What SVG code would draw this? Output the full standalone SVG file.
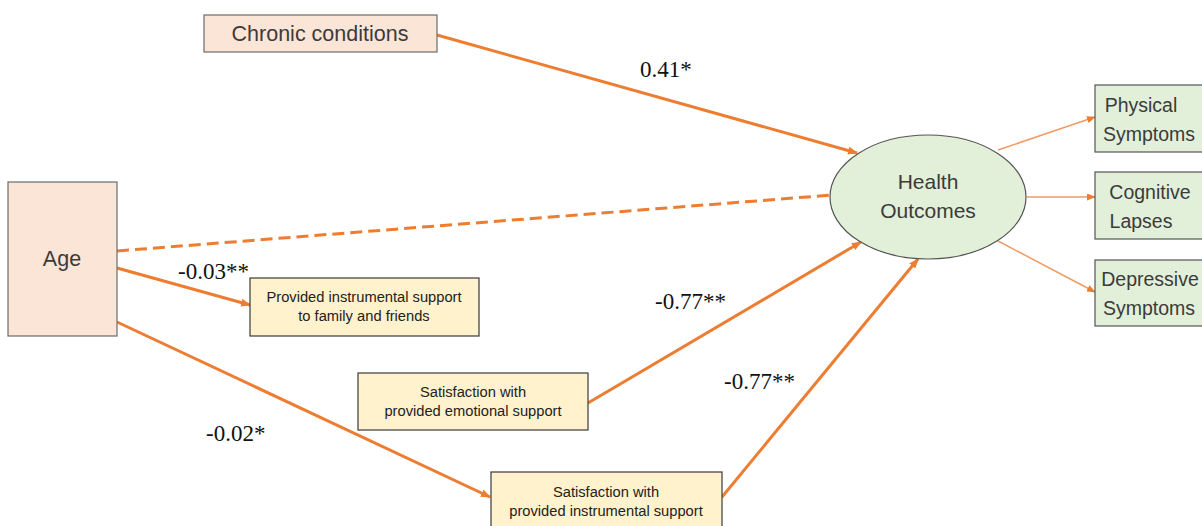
<svg xmlns="http://www.w3.org/2000/svg" width="1202" height="526" viewBox="0 0 1202 526">
  <style>
    .peach { fill: #fbe5d6; stroke: #6b6b6b; stroke-width: 1.2; }
    .cream { fill: #fff2cc; stroke: #3a3a3a; stroke-width: 1.2; }
    .green { fill: #e2efd9; stroke: #555; stroke-width: 1.2; }
    .lbl { font-family: "Liberation Sans", Arial, sans-serif; fill: #3b3b3b; text-anchor: middle; }
    .big { font-size: 21.5px; }
    .out { font-size: 21px; }
    .side { font-size: 19.5px; }
    .small { font-size: 14.7px; fill: #222; }
    .coef { font-family: "Liberation Serif", "Times New Roman", serif; font-size: 23px; fill: #111; }
    .main { stroke: #ed7d31; stroke-width: 3; fill: none; marker-end: url(#ah); }
    .thin { stroke: #f09a66; stroke-width: 1.5; fill: none; marker-end: url(#ahs); }
  </style>
  <defs>
    <marker id="ah" markerWidth="10" markerHeight="8" refX="9" refY="4" orient="auto" markerUnits="userSpaceOnUse">
      <path d="M0,0 L10,4 L0,8 Z" fill="#ed7d31"/>
    </marker>
    <marker id="ahs" markerWidth="9" markerHeight="7" refX="8" refY="3.5" orient="auto" markerUnits="userSpaceOnUse">
      <path d="M0,0 L9,3.5 L0,7 Z" fill="#ed7d31"/>
    </marker>
  </defs>
  <rect width="1202" height="526" fill="#ffffff"/>

  <g id="connectors">
    <line class="main" x1="437" y1="35" x2="857" y2="153"/>
    <line class="main" x1="117" y1="251" x2="845" y2="194" stroke-dasharray="12,6"/>
    <line class="main" x1="117" y1="268" x2="250" y2="305"/>
    <line class="main" x1="117" y1="322" x2="490" y2="497"/>
    <line class="main" x1="588" y1="403" x2="861" y2="242"/>
    <line class="main" x1="722" y1="497" x2="918" y2="259"/>
    <line class="thin" x1="998" y1="150" x2="1095" y2="117"/>
    <line class="thin" x1="1027" y1="197" x2="1095" y2="197"/>
    <line class="thin" x1="998" y1="241" x2="1095" y2="292"/>
  </g>

  <g id="chronic">
    <rect class="peach" x="204" y="15" width="233" height="37"/>
    <text class="lbl big" x="320" y="41">Chronic conditions</text>
  </g>
  <g id="age">
    <rect class="peach" x="8" y="182" width="109" height="154"/>
    <text class="lbl big" x="62" y="266">Age</text>
  </g>
  <g id="provided-instrumental">
    <rect class="cream" x="250" y="278" width="229" height="58"/>
    <text class="lbl small" x="364" y="302">Provided instrumental support</text>
    <text class="lbl small" x="364" y="321">to family and friends</text>
  </g>
  <g id="satisfaction-emotional">
    <rect class="cream" x="358" y="373" width="230" height="57"/>
    <text class="lbl small" x="473" y="397">Satisfaction with</text>
    <text class="lbl small" x="473" y="416">provided emotional support</text>
  </g>
  <g id="satisfaction-instrumental">
    <rect class="cream" x="491" y="472" width="231" height="60"/>
    <text class="lbl small" x="606" y="497">Satisfaction with</text>
    <text class="lbl small" x="606" y="516">provided instrumental support</text>
  </g>
  <g id="health-outcomes">
    <ellipse class="green" cx="928" cy="197" rx="98" ry="62"/>
    <text class="lbl out" x="928" y="189" fill="#222">Health</text>
    <text class="lbl out" x="928" y="218" fill="#222">Outcomes</text>
  </g>
  <g id="physical">
    <rect class="green" x="1095" y="85" width="115" height="67"/>
    <text class="lbl side" x="1141" y="112">Physical</text>
    <text class="lbl side" x="1149" y="141">Symptoms</text>
  </g>
  <g id="cognitive">
    <rect class="green" x="1095" y="172" width="115" height="67"/>
    <text class="lbl side" x="1150" y="199">Cognitive</text>
    <text class="lbl side" x="1141" y="228">Lapses</text>
  </g>
  <g id="depressive">
    <rect class="green" x="1095" y="260" width="115" height="66"/>
    <text class="lbl side" x="1150" y="286">Depressive</text>
    <text class="lbl side" x="1149" y="315">Symptoms</text>
  </g>

  <g id="coefficients">
    <text class="coef" x="640" y="77">0.41*</text>
    <text class="coef" x="178" y="279">-0.03**</text>
    <text class="coef" x="655" y="309">-0.77**</text>
    <text class="coef" x="724" y="389">-0.77**</text>
    <text class="coef" x="206" y="441">-0.02*</text>
  </g>
</svg>
